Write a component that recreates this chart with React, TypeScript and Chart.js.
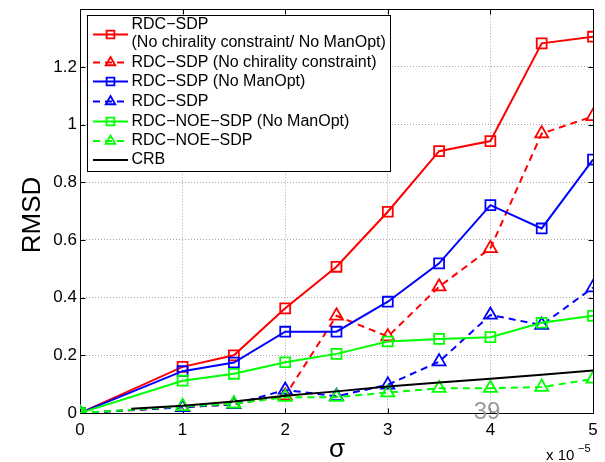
import React, { useEffect, useRef } from 'react';
import { Chart, registerables } from 'chart.js';

Chart.register(...registerables);

// sigma values (x 10^-5)
const sigmaValues = [0, 1, 1.5, 2, 2.5, 3, 3.5, 4, 4.5, 5];
const crbSigma = [0.5, 1, 1.5, 2, 2.5, 3, 3.5, 4, 4.5, 5];

// RMSD series
const rdcSdpNoChiralityNoManOpt = [0, 0.16, 0.2, 0.363, 0.507, 0.698, 0.908, 0.943, 1.282, 1.305];
const rdcSdpNoChirality = [0, 0.02, 0.03, 0.06, 0.337, 0.265, 0.438, 0.571, 0.969, 1.029];
const rdcSdpNoManOpt = [0, 0.145, 0.175, 0.282, 0.282, 0.386, 0.519, 0.721, 0.64, 0.879];
const rdcSdp = [0, 0.02, 0.03, 0.08, 0.058, 0.098, 0.178, 0.34, 0.305, 0.435];
const rdcNoeSdpNoManOpt = [0, 0.112, 0.136, 0.176, 0.205, 0.248, 0.257, 0.263, 0.313, 0.337];
const rdcNoeSdp = [0, 0.023, 0.032, 0.055, 0.055, 0.071, 0.086, 0.086, 0.09, 0.118];
const crb = [0.015, 0.025, 0.04, 0.06, 0.075, 0.092, 0.106, 0.119, 0.133, 0.147];

const xTicks = [0, 1, 2, 3, 4, 5];
const yTicks = [0, 0.2, 0.4, 0.6, 0.8, 1, 1.2];

const seriesLabels: string[][] = [
  ['RDC−SDP', '(No chirality constraint/ No ManOpt)'],
  ['RDC−SDP (No chirality constraint)'],
  ['RDC−SDP (No ManOpt)'],
  ['RDC−SDP'],
  ['RDC−NOE−SDP (No ManOpt)'],
  ['RDC−NOE−SDP'],
  ['CRB'],
];

const xLabel = 'σ';
const yLabel = 'RMSD';
const xExponentBase = 'x 10';
const xExponent = '−5';
const pageNumber = '39';

const FONT = '"Liberation Sans", Arial, Helvetica, sans-serif';
const DASH = [7, 5];

const toPoints = (xs: number[], ys: number[]) => xs.map((x, i) => ({ x, y: ys[i] }));

function makeSeries(label: string, xs: number[], ys: number[], color: string, dashed: boolean, marker: string | false, order: number) {
  return {
    label,
    data: toPoints(xs, ys),
    borderColor: color,
    backgroundColor: color,
    borderWidth: 2,
    borderDash: dashed ? DASH : [],
    pointStyle: marker || 'circle',
    pointRadius: marker ? (marker === 'triangle' ? 7.5 : 7) : 0,
    pointBorderWidth: 1.8,
    pointBorderColor: color,
    pointBackgroundColor: 'rgba(0,0,0,0)',
    tension: 0,
    fill: false,
    order,
  };
}

function drawMarker(ctx: CanvasRenderingContext2D, style: string, cx: number, cy: number, r: number) {
  ctx.beginPath();
  if (style === 'rect') {
    const s = r * Math.SQRT1_2;
    ctx.rect(cx - s, cy - s, 2 * s, 2 * s);
  } else if (style === 'triangle') {
    for (let k = 0; k < 3; k++) {
      const a = (k * 2 * Math.PI) / 3;
      const px = cx + Math.sin(a) * r;
      const py = cy - Math.cos(a) * r;
      if (k === 0) ctx.moveTo(px, py);
      else ctx.lineTo(px, py);
    }
    ctx.closePath();
  }
  ctx.stroke();
}

const matlabPlugin = {
  id: 'matlabLook',
  beforeDatasetsDraw(chart: any) {
    const { ctx, chartArea } = chart;
    const { left, right, top, bottom } = chartArea;
    const xs = chart.scales.x;
    const ys = chart.scales.y;
    ctx.save();
    ctx.strokeStyle = '#000';
    ctx.lineWidth = 1;
    ctx.setLineDash([]);
    const L = Math.round(left) + 0.5;
    const R = Math.round(right) + 0.5;
    const T = Math.round(top) + 0.5;
    const B = Math.round(bottom) + 0.5;
    ctx.strokeRect(L, T, R - L, B - T);
    ctx.beginPath();
    xTicks.forEach((v) => {
      const px = Math.round(xs.getPixelForValue(v)) + 0.5;
      ctx.moveTo(px, B);
      ctx.lineTo(px, B - 5);
      ctx.moveTo(px, T);
      ctx.lineTo(px, T + 5);
    });
    yTicks.forEach((v) => {
      const py = Math.round(ys.getPixelForValue(v)) + 0.5;
      ctx.moveTo(L, py);
      ctx.lineTo(L + 5, py);
      ctx.moveTo(R, py);
      ctx.lineTo(R - 5, py);
    });
    ctx.stroke();
    ctx.restore();
  },
  afterDraw(chart: any) {
    const { ctx } = chart;
    ctx.save();

    // Legend box
    const bx = 87.5, by = 15.5, bw = 303, bh = 156;
    ctx.fillStyle = '#fff';
    ctx.fillRect(bx, by, bw, bh);
    ctx.strokeStyle = '#000';
    ctx.lineWidth = 1;
    ctx.setLineDash([]);
    ctx.strokeRect(bx, by, bw, bh);

    const rowY = [34.5, 62.5, 81.5, 101.5, 121.5, 141, 160];
    ctx.font = `16px ${FONT}`;
    ctx.textBaseline = 'middle';
    ctx.textAlign = 'left';
    chart.data.datasets.forEach((ds: any, i: number) => {
      const y = rowY[i];
      ctx.strokeStyle = ds.borderColor;
      ctx.lineWidth = 2;
      ctx.setLineDash(ds.borderDash || []);
      ctx.beginPath();
      ctx.moveTo(93, y);
      ctx.lineTo(128, y);
      ctx.stroke();
      ctx.setLineDash([]);
      if (ds.pointRadius > 0) {
        ctx.lineWidth = 1.8;
        drawMarker(ctx, ds.pointStyle, 110.5, y, 5.5);
      }
      ctx.fillStyle = '#000';
      const lines = seriesLabels[i];
      const step = 18.5;
      const startY = y - ((lines.length - 1) * step) / 2 - (lines.length > 1 ? 1 : 0);
      lines.forEach((line, j) => {
        ctx.fillText(line, 131.5, startY + j * step);
      });
    });

    // Axis titles
    ctx.fillStyle = '#000';
    ctx.font = `26px ${FONT}`;
    ctx.save();
    ctx.translate(33, 215);
    ctx.rotate(-Math.PI / 2);
    ctx.textAlign = 'center';
    ctx.textBaseline = 'middle';
    ctx.fillText(yLabel, 0, 0);
    ctx.restore();

    ctx.textAlign = 'center';
    ctx.textBaseline = 'alphabetic';
    ctx.font = `26px ${FONT}`;
    ctx.fillText(xLabel, 337, 457);

    ctx.textAlign = 'left';
    ctx.font = `15px ${FONT}`;
    ctx.fillText(xExponentBase, 546, 460);
    ctx.font = `11px ${FONT}`;
    ctx.fillText(xExponent, 578, 452);

    // page number artifact
    ctx.fillStyle = '#9a9a9a';
    ctx.font = `24px ${FONT}`;
    ctx.textAlign = 'center';
    ctx.fillText(pageNumber, 487, 419);

    ctx.restore();
  },
};

export default function App() {
  const canvasRef = useRef<HTMLCanvasElement | null>(null);

  useEffect(() => {
    const canvas = canvasRef.current;
    if (!canvas) return;
    const tickFont = { family: FONT, size: 17 };
    const chart = new Chart(canvas, {
      type: 'line',
      data: {
        datasets: [
          makeSeries(seriesLabels[0].join(' '), sigmaValues, rdcSdpNoChiralityNoManOpt, '#ff0000', false, 'rect', 7),
          makeSeries(seriesLabels[1][0], sigmaValues, rdcSdpNoChirality, '#ff0000', true, 'triangle', 6),
          makeSeries(seriesLabels[2][0], sigmaValues, rdcSdpNoManOpt, '#0000ff', false, 'rect', 5),
          makeSeries(seriesLabels[3][0], sigmaValues, rdcSdp, '#0000ff', true, 'triangle', 4),
          makeSeries(seriesLabels[4][0], sigmaValues, rdcNoeSdpNoManOpt, '#00ff00', false, 'rect', 3),
          makeSeries(seriesLabels[5][0], sigmaValues, rdcNoeSdp, '#00ff00', true, 'triangle', 2),
          makeSeries(seriesLabels[6][0], crbSigma, crb, '#000000', false, false, 1),
        ] as any,
      },
      options: {
        responsive: false,
        animation: false,
        events: [],
        layout: { padding: { top: 9, right: 12, left: 0, bottom: 0 } },
        plugins: {
          legend: { display: false },
          tooltip: { enabled: false },
          title: { display: false },
        },
        scales: {
          x: {
            type: 'linear',
            min: 0,
            max: 5,
            afterBuildTicks: (s: any) => {
              s.ticks = xTicks.map((v) => ({ value: v }));
            },
            afterFit: (s: any) => {
              s.height = 49;
              s.paddingLeft = 0;
              s.paddingRight = 0;
            },
            ticks: {
              font: tickFont,
              color: '#000',
              padding: 7,
              maxRotation: 0,
              autoSkip: false,
              callback: (v: any) => String(v),
            },
            grid: { color: '#a8a8a8', lineWidth: 1, drawTicks: false },
            border: { display: false, dash: [1, 2] },
          },
          y: {
            type: 'linear',
            min: 0,
            max: 1.4,
            afterBuildTicks: (s: any) => {
              s.ticks = yTicks.map((v) => ({ value: v }));
            },
            afterFit: (s: any) => {
              s.width = 80;
              s.paddingTop = 0;
              s.paddingBottom = 0;
            },
            ticks: {
              font: tickFont,
              color: '#000',
              padding: 3,
              autoSkip: false,
              callback: (v: any) => String(Number(Number(v).toFixed(1))),
            },
            grid: { color: '#a8a8a8', lineWidth: 1, drawTicks: false },
            border: { display: false, dash: [1, 2] },
          },
        },
      } as any,
      plugins: [matlabPlugin],
    });
    return () => chart.destroy();
  }, []);

  return (
    <div style={{ position: 'absolute', left: 0, top: 0, width: 605, height: 462, background: '#fff' }}>
      <canvas ref={canvasRef} width={605} height={462} style={{ display: 'block' }} />
    </div>
  );
}
